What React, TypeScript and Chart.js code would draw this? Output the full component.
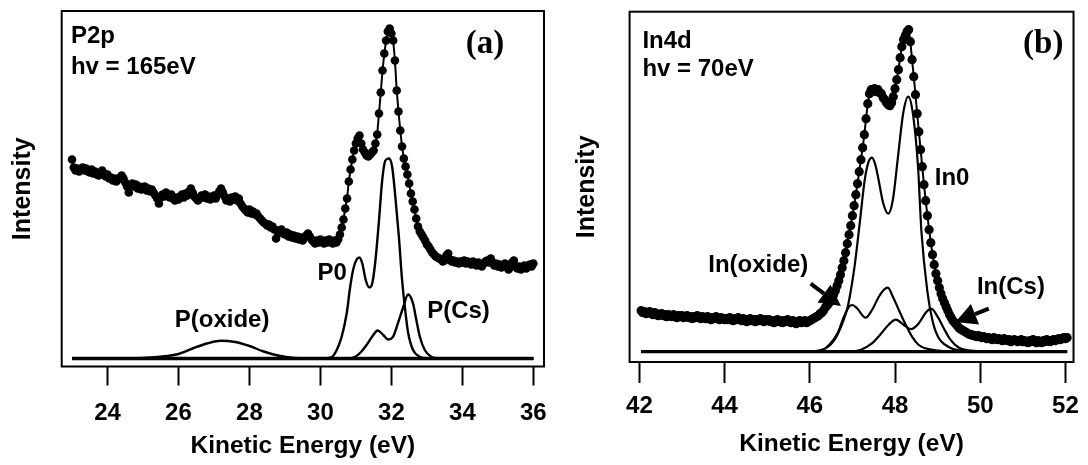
import React, { useEffect, useRef } from "react";
import { Chart, registerables } from "chart.js";

Chart.register(...registerables);

// ---------------- Panel (a): P2p, hv = 165 eV ----------------
const P2P_E_START = 23.0;
const P2P_E_STEP = 0.05;
const P2P_INTENSITY = [
  199, 191, 188, 190, 187, 189, 191, 188, 190, 187, 186, 189, 185, 187, 184, 183, 186, 188, 185, 182,
  184, 180, 181, 178, 180, 177, 179, 181, 183, 180, 176, 172, 166, 173, 175, 172, 174, 170, 172, 169,
  171, 172, 168, 170, 167, 169, 166, 163, 160, 155, 161, 164, 162, 166, 163, 161, 164, 160, 158, 161,
  159, 162, 164, 161, 165, 163, 167, 170, 166, 162, 160, 158, 160, 163, 161, 164, 160, 162, 159, 161,
  163, 160, 164, 167, 170, 166, 162, 158, 160, 157, 161, 159, 162, 158, 160, 155, 152, 150, 148, 146,
  149, 145, 147, 144, 145, 142, 140, 138, 136, 135, 133, 134, 131, 132, 129, 120, 128, 126, 129, 125,
  124, 126, 122, 124, 121, 123, 120, 122, 119, 121, 118, 121, 123, 125, 122, 119, 117, 115, 118, 116,
  119, 117, 115, 118, 116, 119, 117, 115, 118, 116, 119, 124, 131, 139, 150, 160, 177, 189, 199, 208,
  215, 220, 223, 215, 209, 206, 203, 202, 204, 206, 208, 215, 224, 245, 266, 288, 305, 318, 327, 330,
  325, 318, 298, 268, 247, 228, 212, 200, 192, 184, 175, 165, 157, 149, 140, 132, 127, 124, 121, 118,
  114, 112, 109, 106, 104, 102, 101, 100, 99, 97, 98, 103, 105, 99, 97, 98, 96, 97, 95, 97,
  96, 98, 95, 97, 96, 94, 97, 95, 93, 96, 94, 92, 95, 97, 98, 96, 100, 96, 93, 95,
  92, 94, 91, 93, 95, 92, 89, 91, 96, 98, 92, 90, 92, 89, 91, 93, 90, 92, 94, 92,
  95,
];
const P2P_BG_E = [23.0, 36.0];
const P2P_BG_I = [0, 0];
const P2P_OXIDE_E = [23.0, 24.0, 24.8, 25.2, 25.6, 26.0, 26.4, 26.8, 27.2, 27.6, 28.0, 28.4, 28.8, 29.2, 29.6, 30.0, 36.0];
const P2P_OXIDE_I = [0, 0, 0.3, 1, 2.3, 4.5, 10, 15, 17.8, 16.5, 12.5, 7, 3, 0.8, 0.2, 0, 0];
const P2P_P0_E = [23.0, 30.0, 30.3, 30.46, 30.6, 30.74, 30.84, 30.93, 31.02, 31.1, 31.18, 31.28, 31.38, 31.46, 31.55, 31.65, 31.74, 31.83, 31.93, 32.02, 32.11, 32.21, 32.3, 32.4, 32.47, 32.61, 32.8, 33.0, 33.2, 36.0];
const P2P_P0_I = [0, 0, 1, 8.5, 22, 45, 72, 90, 99, 101, 95, 78, 71, 75, 98, 138, 178, 198, 200, 192, 162, 122, 79, 45, 26, 8.5, 1.8, 0.2, 0, 0];
const P2P_CS_E = [23.0, 30.8, 30.98, 31.13, 31.3, 31.49, 31.61, 31.77, 31.91, 32.05, 32.19, 32.33, 32.47, 32.61, 32.7, 32.8, 32.94, 33.12, 33.3, 36.0];
const P2P_CS_I = [0, 0, 1.8, 6, 13.5, 23.5, 28, 23.5, 19, 22, 36, 51, 64, 55, 39, 22, 8.5, 1.8, 0.2, 0];
const P2P_TICKS = [24, 26, 28, 30, 32, 34, 36];

// ---------------- Panel (b): In4d, hv = 70 eV ----------------
const IN4D_E_START = 42.04;
const IN4D_E_STEP = 0.04;
const IN4D_INTENSITY = [
  41, 39, 40, 38, 39, 40, 38, 37, 39, 38, 36, 37, 38, 36, 37, 35, 37, 36, 35, 37, 36, 34, 36, 35, 36,
  34, 35, 36, 34, 35, 33, 35, 34, 36, 34, 33, 35, 34, 33, 35, 34, 32, 34, 33, 35, 33, 32, 34, 33, 32,
  33, 32, 34, 32, 31, 33, 32, 34, 32, 31, 33, 32, 30, 32, 33, 31, 32, 30, 32, 31, 33, 31, 30, 32, 31,
  32, 30, 31, 29, 31, 32, 30, 31, 29, 31, 30, 32, 30, 29, 31, 30, 28, 30, 31, 29, 30, 31, 29, 30, 31,
  32, 33, 34, 35, 36, 38, 39, 41, 44, 46, 48, 51, 54, 57, 61, 66, 71, 77, 84, 91, 99, 108, 117, 126, 136,
  146, 157, 168, 180, 192, 204, 217, 233, 248, 258, 262, 261, 263, 260, 262, 259, 258, 254, 252, 249, 247, 246, 249, 255, 263,
  272, 282, 294, 305, 312, 316, 320, 322, 310, 292, 275, 257, 238, 220, 202, 185, 167, 151, 136, 122, 109, 97, 87, 78, 71,
  64, 58, 53, 49, 45, 41, 37, 34, 31, 29, 27, 25, 23, 22, 21, 20, 19, 18, 17, 17, 16, 16, 15, 16, 15,
  14, 15, 14, 13, 14, 13, 12, 14, 13, 12, 13, 12, 11, 13, 12, 11, 12, 10, 11, 12, 11, 10, 11, 12, 10,
  11, 10, 9, 11, 10, 12, 10, 9, 11, 10, 9, 11, 10, 12, 11, 10, 11, 12, 11, 12, 13, 12, 13, 14, 13,
  14,
];
const IN4D_BG_E = [42.04, 52.04];
const IN4D_BG_I = [0, 0];
const IN4D_IN0_E = [42.04, 45.9, 46.2, 46.4, 46.55, 46.66, 46.78, 46.89, 46.97, 47.05, 47.17, 47.29, 47.38, 47.46, 47.53, 47.6, 47.72, 47.84, 47.95, 48.07, 48.19, 48.31, 48.42, 48.54, 48.62, 48.76, 48.88, 49.01, 49.25, 49.56, 50.0, 52.04];
const IN4D_IN0_I = [0, 0, 1, 4, 10, 18, 30, 45, 63, 85, 128, 172, 190, 194, 188, 175, 149, 138, 152, 195, 238, 255, 238, 185, 120, 60, 31, 15, 5, 1, 0, 0];
const IN4D_OX_E = [42.04, 45.9, 46.22, 46.45, 46.65, 46.8, 46.92, 47.0, 47.11, 47.31, 47.46, 47.62, 47.74, 47.83, 47.95, 48.09, 48.25, 48.4, 48.55, 48.71, 49.02, 49.3, 52.04];
const IN4D_OX_I = [0, 0, 0.5, 6.7, 18.4, 35, 45, 46.7, 43.4, 34, 41.7, 55, 62, 64, 55, 41.7, 27, 15, 7, 3.4, 1, 0, 0];
const IN4D_CS_E = [42.04, 46.9, 47.2, 47.45, 47.65, 47.85, 48.02, 48.2, 48.37, 48.55, 48.72, 48.85, 49.0, 49.15, 49.3, 49.5, 49.8, 50.1, 52.04];
const IN4D_CS_I = [0, 0, 2, 8, 17, 27, 32, 27, 22.5, 28, 39, 43, 35, 23, 12, 4, 1, 0, 0];
const IN4D_TICKS = [42, 44, 46, 48, 50, 52];

// ---------------- helpers ----------------
const SANS = "'Liberation Sans', Arial, Helvetica, sans-serif";
const SERIF = "'Liberation Serif', 'Times New Roman', serif";

function gridSeries(start: number, step: number, vals: number[]) {
  return vals.map((y, i) => ({ x: +(start + i * step).toFixed(3), y }));
}
function pairSeries(xs: number[], ys: number[]) {
  return xs.map((x, i) => ({ x, y: ys[i] }));
}

type TextItem = { text: string; x: number; y: number; align: CanvasTextAlign; base: CanvasTextBaseline; font: string };
type ArrowItem = { x1: number; y1: number; x2: number; y2: number };

type PanelSpec = {
  left: number;
  width: number;
  height: number;
  area: { left: number; right: number; top: number; bottom: number };
  xMin: number;
  xMax: number;
  yMin: number;
  yMax: number;
  ticks: number[];
  tickLength: number;
  tickPadding: number;
  titlePadBottom: number;
  yTitlePadTop: number;
  dotRadius: number;
  dataLineWidth: number;
  fitWidth: number;
  bgWidth: number;
  dataPoints: { x: number; y: number }[];
  bg: { x: number; y: number }[];
  fits: { x: number; y: number }[][];
  texts: TextItem[];
  arrows: ArrowItem[];
};

const annotationPlugin = {
  id: "panelDecor",
  afterDraw(chart: any) {
    const spec: PanelSpec = chart.options.plugins.panelDecor.spec;
    const { ctx, chartArea } = chart;
    const xs = chart.scales.x;
    const ys = chart.scales.y;
    ctx.save();
    ctx.strokeStyle = "#000";
    ctx.lineWidth = 2;
    ctx.strokeRect(chartArea.left, chartArea.top, chartArea.right - chartArea.left, chartArea.bottom - chartArea.top);
    ctx.fillStyle = "#000";
    for (const t of spec.texts) {
      ctx.font = t.font;
      ctx.textAlign = t.align;
      ctx.textBaseline = t.base;
      ctx.fillText(t.text, xs.getPixelForValue(t.x), ys.getPixelForValue(t.y));
    }
    for (const a of spec.arrows) {
      const x1 = xs.getPixelForValue(a.x1);
      const y1 = ys.getPixelForValue(a.y1);
      const x2 = xs.getPixelForValue(a.x2);
      const y2 = ys.getPixelForValue(a.y2);
      const ang = Math.atan2(y2 - y1, x2 - x1);
      const hl = 21;
      const hw = 11;
      const bx = x2 - hl * Math.cos(ang);
      const by = y2 - hl * Math.sin(ang);
      ctx.lineWidth = 4;
      ctx.lineCap = "butt";
      ctx.beginPath();
      ctx.moveTo(x1, y1);
      ctx.lineTo(bx, by);
      ctx.stroke();
      ctx.beginPath();
      ctx.moveTo(x2, y2);
      ctx.lineTo(bx + hw * Math.sin(ang), by - hw * Math.cos(ang));
      ctx.lineTo(bx - hw * Math.sin(ang), by + hw * Math.cos(ang));
      ctx.closePath();
      ctx.fill();
    }
    ctx.restore();
  },
};

function Panel({ spec }: { spec: PanelSpec }) {
  const ref = useRef<HTMLCanvasElement | null>(null);
  useEffect(() => {
    if (!ref.current) return;
    const datasets: any[] = [
      {
        data: spec.dataPoints,
        showLine: true,
        borderColor: "#000",
        borderWidth: spec.dataLineWidth,
        pointRadius: spec.dotRadius,
        pointBackgroundColor: "#000",
        pointBorderColor: "#000",
        pointBorderWidth: 0,
        clip: false,
      },
      ...spec.fits.map((f) => ({
        data: f,
        showLine: true,
        borderColor: "#000",
        borderWidth: spec.fitWidth,
        pointRadius: 0,
        cubicInterpolationMode: "monotone",
        clip: false,
      })),
      {
        data: spec.bg,
        showLine: true,
        borderColor: "#000",
        borderWidth: spec.bgWidth,
        pointRadius: 0,
        clip: false,
      },
    ];
    const chart = new Chart(ref.current, {
      type: "scatter",
      data: { datasets },
      plugins: [annotationPlugin],
      options: {
        responsive: false,
        animation: false,
        devicePixelRatio: 1,
        events: [],
        layout: {
          padding: { left: 0, top: spec.area.top, right: spec.width - spec.area.right, bottom: 0 },
        },
        plugins: {
          legend: { display: false },
          tooltip: { enabled: false },
          title: { display: false },
          panelDecor: { spec },
        } as any,
        scales: {
          x: {
            type: "linear",
            position: "bottom",
            min: spec.xMin,
            max: spec.xMax,
            afterBuildTicks: (s: any) => {
              s.ticks = spec.ticks.map((v) => ({ value: v }));
            },
            afterFit: (s: any) => {
              s.height = spec.height - spec.area.bottom;
            },
            grid: {
              display: true,
              drawOnChartArea: false,
              drawTicks: true,
              tickLength: spec.tickLength,
              tickWidth: 2,
              tickColor: "#000",
              color: "#000",
            },
            border: { display: false },
            ticks: {
              color: "#000",
              padding: spec.tickPadding,
              maxRotation: 0,
              autoSkip: false,
              font: { family: SANS, size: 24, weight: "bold" },
              callback: (v: any) => String(v),
            },
            title: {
              display: true,
              text: "Kinetic Energy (eV)",
              color: "#000",
              font: { family: SANS, size: 24.5, weight: "bold", lineHeight: 1.2 },
              padding: { top: 0, bottom: spec.titlePadBottom },
            },
          },
          y: {
            type: "linear",
            position: "left",
            min: spec.yMin,
            max: spec.yMax,
            afterFit: (s: any) => {
              s.width = spec.area.left;
            },
            grid: { display: false },
            border: { display: false },
            ticks: { display: false },
            title: {
              display: true,
              text: "Intensity",
              color: "#000",
              font: { family: SANS, size: 25, weight: "bold", lineHeight: 1.2 },
              padding: { top: spec.yTitlePadTop, bottom: 0 },
            },
          },
        },
      } as any,
    });
    return () => chart.destroy();
  }, [spec]);
  return (
    <canvas
      ref={ref}
      width={spec.width}
      height={spec.height}
      style={{ position: "absolute", left: spec.left, top: 0, width: spec.width, height: spec.height, display: "block" }}
    />
  );
}

const LABEL_FONT = `bold 24px ${SANS}`;
const TAG_FONT = `bold 33px ${SERIF}`;

const PANEL_A: PanelSpec = {
  left: 0,
  width: 560,
  height: 465,
  area: { left: 61.7, right: 546.7, top: 11, bottom: 366.5 },
  xMin: 22.71,
  xMax: 36.3,
  yMin: -8,
  yMax: 347.5,
  ticks: P2P_TICKS,
  tickLength: 19,
  tickPadding: 13,
  titlePadBottom: 3.6,
  yTitlePadTop: 8.2,
  dotRadius: 4.3,
  dataLineWidth: 2,
  fitWidth: 2.4,
  bgWidth: 3.6,
  dataPoints: gridSeries(P2P_E_START, P2P_E_STEP, P2P_INTENSITY),
  bg: pairSeries(P2P_BG_E, P2P_BG_I),
  fits: [pairSeries(P2P_OXIDE_E, P2P_OXIDE_I), pairSeries(P2P_P0_E, P2P_P0_I), pairSeries(P2P_CS_E, P2P_CS_I)],
  texts: [
    { text: "P2p", x: 22.97, y: 315.5, align: "left", base: "alphabetic", font: LABEL_FONT },
    { text: "hv = 165eV", x: 22.97, y: 284.5, align: "left", base: "alphabetic", font: LABEL_FONT },
    { text: "(a)", x: 34.64, y: 314.5, align: "center", base: "middle", font: TAG_FONT },
    { text: "P(oxide)", x: 27.23, y: 38.5, align: "center", base: "middle", font: LABEL_FONT },
    { text: "P0", x: 30.33, y: 85.5, align: "center", base: "middle", font: LABEL_FONT },
    { text: "P(Cs)", x: 33.89, y: 47.5, align: "center", base: "middle", font: LABEL_FONT },
  ],
  arrows: [],
};

const PANEL_B: PanelSpec = {
  left: 560,
  width: 528,
  height: 465,
  area: { left: 69.6, right: 515.8, top: 11.7, bottom: 362 },
  xMin: 41.77,
  xMax: 52.19,
  yMin: -10.3,
  yMax: 340,
  ticks: IN4D_TICKS,
  tickLength: 21,
  tickPadding: 9,
  titlePadBottom: 6.5,
  yTitlePadTop: 11.9,
  dotRadius: 4.6,
  dataLineWidth: 2,
  fitWidth: 2.2,
  bgWidth: 3.2,
  dataPoints: gridSeries(IN4D_E_START, IN4D_E_STEP, IN4D_INTENSITY),
  bg: pairSeries(IN4D_BG_E, IN4D_BG_I),
  fits: [pairSeries(IN4D_IN0_E, IN4D_IN0_I), pairSeries(IN4D_OX_E, IN4D_OX_I), pairSeries(IN4D_CS_E, IN4D_CS_I)],
  texts: [
    { text: "In4d", x: 42.07, y: 303.7, align: "left", base: "alphabetic", font: LABEL_FONT },
    { text: "hv = 70eV", x: 42.07, y: 275.7, align: "left", base: "alphabetic", font: LABEL_FONT },
    { text: "(b)", x: 51.48, y: 307.7, align: "center", base: "middle", font: TAG_FONT },
    { text: "In0", x: 49.34, y: 173.7, align: "center", base: "middle", font: LABEL_FONT },
    { text: "In(oxide)", x: 44.79, y: 86.7, align: "center", base: "middle", font: LABEL_FONT },
    { text: "In(Cs)", x: 50.72, y: 64.1, align: "center", base: "middle", font: LABEL_FONT },
  ],
  arrows: [
    { x1: 46.02, y1: 68, x2: 46.73, y2: 45.7 },
    { x1: 50.2, y1: 43, x2: 49.42, y2: 29.7 },
  ],
};

export default function App() {
  return (
    <div style={{ position: "fixed", left: 0, top: 0, width: 1088, height: 465, background: "#fff", overflow: "hidden" }}>
      <Panel spec={PANEL_A} />
      <Panel spec={PANEL_B} />
    </div>
  );
}
